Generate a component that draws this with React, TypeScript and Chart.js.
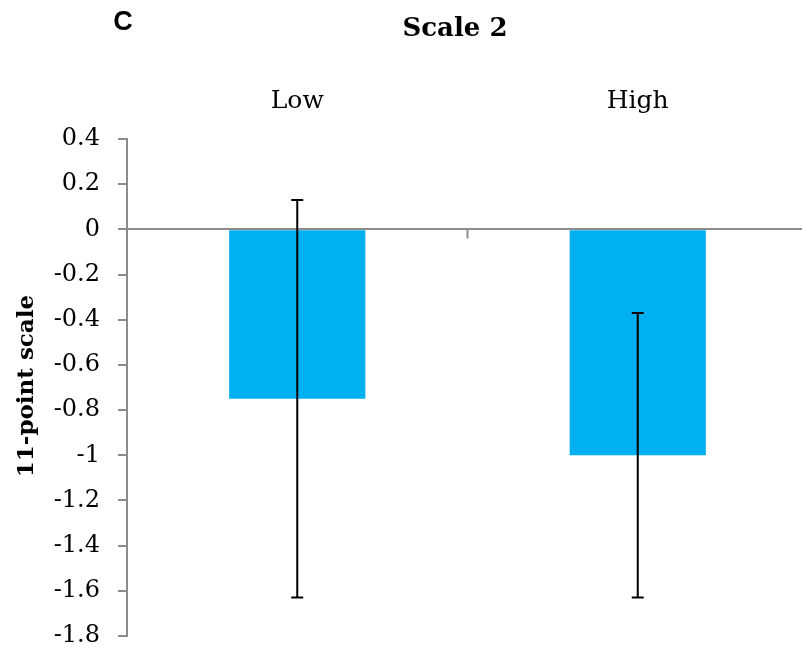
import React, { useEffect, useRef } from "react";
import { Chart, registerables } from "chart.js";

Chart.register(...registerables);

const categories = ["Low", "High"];
const means = [-0.75, -1.0];
const errors = [0.88, 0.63];
const yMin = -1.8;
const yMax = 0.4;
const yStep = 0.2;
const chartTitle = "Scale 2";
const panelLetter = "C";
const yAxisTitle = "11-point scale";

const AXIS_GRAY = "#8c8c8c";
const BAR_BLUE = "#00B0F0";

const extrasPlugin = {
  id: "extras",
  afterDatasetsDraw(chart: any) {
    const ctx = chart.ctx;
    const x = chart.scales.x;
    const y = chart.scales.y;
    ctx.save();
    // error bars
    ctx.strokeStyle = "#000";
    ctx.lineWidth = 2;
    means.forEach((m, i) => {
      const px = x.getPixelForValue(i);
      const top = y.getPixelForValue(m + errors[i]);
      const bot = y.getPixelForValue(m - errors[i]);
      ctx.beginPath();
      ctx.moveTo(px, top);
      ctx.lineTo(px, bot);
      ctx.moveTo(px - 6, top);
      ctx.lineTo(px + 6, top);
      ctx.moveTo(px - 6, bot);
      ctx.lineTo(px + 6, bot);
      ctx.stroke();
    });
    // middle category tick on zero line
    const zero = y.getPixelForValue(0);
    const mid = (x.getPixelForValue(0) + x.getPixelForValue(1)) / 2;
    ctx.strokeStyle = AXIS_GRAY;
    ctx.lineWidth = 2;
    ctx.beginPath();
    ctx.moveTo(mid, zero);
    ctx.lineTo(mid, zero + 9);
    ctx.stroke();
    ctx.restore();
  },
  afterDraw(chart: any) {
    const ctx = chart.ctx;
    ctx.save();
    ctx.fillStyle = "#000";
    ctx.textAlign = "center";
    ctx.textBaseline = "middle";
    ctx.font = "bold 26px 'DejaVu Serif'";
    ctx.fillText(chartTitle, 455, 29);
    ctx.font = "bold 27px 'Liberation Sans'";
    ctx.fillText(panelLetter, 123, 23);
    ctx.translate(27, 386);
    ctx.rotate(-Math.PI / 2);
    ctx.font = "bold 23px 'DejaVu Serif'";
    ctx.fillText(yAxisTitle, 0, 0);
    ctx.restore();
  },
};

export default function App() {
  const ref = useRef<HTMLCanvasElement>(null);
  useEffect(() => {
    if (!ref.current) return;
    const chart = new Chart(ref.current, {
      type: "bar",
      data: {
        labels: categories,
        datasets: [
          {
            data: means,
            backgroundColor: BAR_BLUE,
            borderWidth: 0,
            barPercentage: 0.4,
            categoryPercentage: 1,
          },
        ],
      },
      options: {
        responsive: false,
        animation: false,
        layout: { padding: { left: 0, right: 0, top: 0, bottom: 17 } },
        plugins: { legend: { display: false }, tooltip: { enabled: false }, title: { display: false } },
        scales: {
          x: {
            position: "top",
            grid: { display: false },
            border: { display: false },
            ticks: {
              color: "#000",
              font: { family: "'DejaVu Serif'", size: 25 },
              padding: 15,
              maxRotation: 0,
            },
            afterFit(scale: any) {
              scale.height = 139;
            },
          },
          y: {
            min: yMin,
            max: yMax,
            grid: {
              drawOnChartArea: true,
              color: (c: any) => (c.tick && Math.abs(c.tick.value) < 1e-9 ? AXIS_GRAY : "rgba(0,0,0,0)"),
              lineWidth: 2,
              tickColor: AXIS_GRAY,
              tickWidth: 2,
              tickLength: 9,
            },
            border: { display: true, color: AXIS_GRAY, width: 2 },
            ticks: {
              stepSize: yStep,
              color: "#000",
              font: { family: "'DejaVu Serif'", size: 24 },
              padding: 18,
              callback: (v: any) => String(Number(Number(v).toFixed(1))),
            },
            afterFit(scale: any) {
              scale.width = 127;
              scale.paddingTop = 0;
              scale.paddingBottom = 0;
            },
          },
        },
      },
      plugins: [extrasPlugin],
    });
    return () => chart.destroy();
  }, []);
  return (
    <div style={{ position: "absolute", left: 0, top: 0, width: 802, height: 653, overflow: "hidden", background: "#fff" }}>
      <canvas ref={ref} width={808} height={653} style={{ display: "block" }} />
    </div>
  );
}
